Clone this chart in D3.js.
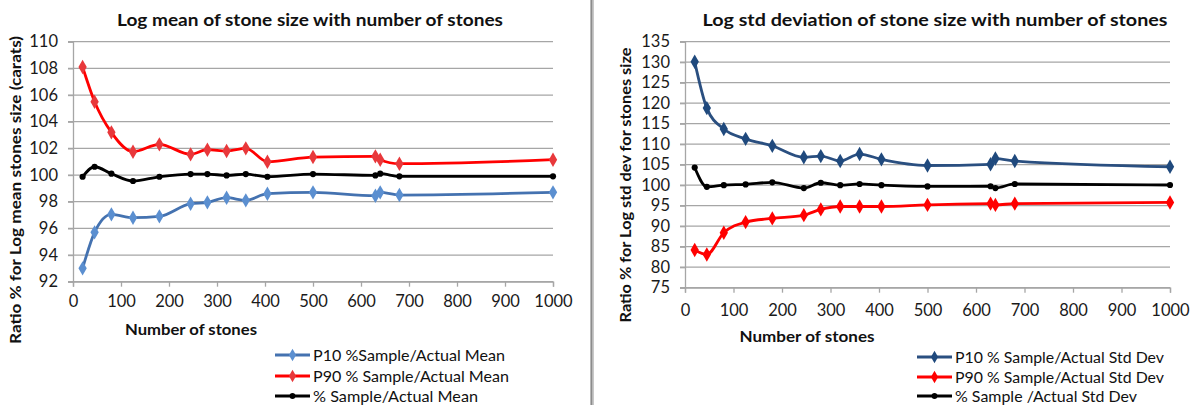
<!DOCTYPE html>
<html><head><meta charset="utf-8">
<script src="https://cdn.jsdelivr.net/npm/d3@7"></script>
<style>
html,body{margin:0;padding:0;background:#fff;}
svg{display:block;font-family:Lato,"Open Sans",sans-serif;}
</style></head>
<body>
<svg id="c" width="1195" height="405"></svg>
<script>
// ---- data ----
const stones = [20, 45, 80, 125, 180, 245, 280, 320, 360, 405, 500, 630, 640, 680, 1000];
const meanP10 = [93.0, 95.7, 97.05, 96.8, 96.9, 97.85, 97.95, 98.3, 98.1, 98.6, 98.7, 98.45, 98.7, 98.5, 98.7];
const meanP90 = [108.1, 105.5, 103.2, 101.75, 102.3, 101.55, 101.9, 101.8, 102.0, 101.0, 101.35, 101.4, 101.15, 100.85, 101.15];
const meanAvg = [99.87, 100.62, 100.1, 99.55, 99.87, 100.07, 100.07, 99.97, 100.07, 99.87, 100.07, 99.97, 100.1, 99.9, 99.9];
const stdP10 = [130.1, 118.8, 113.7, 111.3, 109.6, 106.8, 107.1, 105.9, 107.6, 106.3, 104.8, 105.1, 106.5, 105.9, 104.5];
const stdP90 = [84.2, 83.1, 88.4, 91.0, 91.9, 92.7, 94.1, 94.8, 94.8, 94.8, 95.2, 95.5, 95.2, 95.5, 95.8];
const stdAvg = [104.3, 99.6, 100.0, 100.2, 100.7, 99.3, 100.6, 100.0, 100.3, 100.0, 99.7, 99.75, 99.3, 100.3, 100.05];
const xTicks = [0, 100, 200, 300, 400, 500, 600, 700, 800, 900, 1000];
const meanTicks = [92, 94, 96, 98, 100, 102, 104, 106, 108, 110];
const stdTicks = [75, 80, 85, 90, 95, 100, 105, 110, 115, 120, 125, 130, 135];
const meanNames = ["P10 %Sample/Actual Mean", "P90 % Sample/Actual Mean", "% Sample/Actual Mean"];
const stdNames = ["P10 % Sample/Actual Std Dev", "P90 % Sample/Actual Std Dev", "% Sample /Actual Std Dev"];

const svg = d3.select("#c");
const GRID = "#a6a6a6";

// divider between the two charts
svg.append("rect").attr("x", 590).attr("y", 0).attr("width", 4).attr("height", 405).attr("fill", "#c8c8c8");
svg.append("line").attr("x1", 591.5).attr("x2", 591.5).attr("y1", 0).attr("y2", 405).attr("stroke", "#8c8c8c").attr("stroke-width", 1.5);

function drawChart(cfg) {
  const x = d3.scaleLinear().domain([0, 1000]).range(cfg.xr);
  const y = d3.scaleLinear().domain(cfg.yd).range(cfg.yr);
  const g = svg.append("g");

  // gridlines
  g.append("g").selectAll("line").data(cfg.yTicks).join("line")
    .attr("x1", cfg.xr[0] - 5).attr("x2", cfg.xr[1])
    .attr("y1", d => y(d)).attr("y2", d => y(d))
    .attr("stroke", GRID).attr("stroke-width", 1.3);

  // y axis
  const ya = g.append("g").attr("transform", `translate(${cfg.xr[0]},0)`)
    .call(d3.axisLeft(y).tickValues(cfg.yTicks).tickSize(5).tickPadding(10).tickFormat(d3.format("d")));
  ya.select(".domain").attr("stroke", GRID).attr("stroke-width", 1.3);
  ya.selectAll(".tick line").attr("stroke", GRID).attr("stroke-width", 1.3);
  ya.selectAll("text").attr("font-size", 16.5).attr("fill", "#1a1a1a").attr("font-family", "Lato");

  // x axis
  const xa = g.append("g").attr("transform", `translate(0,${cfg.yr[0]})`)
    .call(d3.axisBottom(x).tickValues(xTicks).tickSize(5).tickPadding(cfg.xPad).tickFormat(d3.format("d")));
  xa.select(".domain").attr("stroke", GRID).attr("stroke-width", 1.3);
  xa.selectAll(".tick line").attr("stroke", GRID).attr("stroke-width", 1.3);
  xa.selectAll("text").attr("font-size", 16.5).attr("fill", "#1a1a1a").attr("font-family", "Lato");

  // series
  const line = d3.line().x((d, i) => x(stones[i])).y(d => y(d)).curve(d3.curveMonotoneX);
  const diamond = d3.symbol().type(d3.symbolDiamond).size(60);
  cfg.series.forEach(s => {
    g.append("path").datum(s.vals).attr("d", line).attr("fill", "none")
      .attr("stroke", s.line).attr("stroke-width", 2.8).attr("stroke-linejoin", "round");
    const m = g.append("g").selectAll("path").data(s.vals).join("path")
      .attr("transform", (d, i) => `translate(${x(stones[i])},${y(d)})`)
      .attr("fill", s.marker);
    if (s.shape === "circle") m.attr("d", d3.symbol().type(d3.symbolCircle).size(30));
    else m.attr("d", diamond);
  });

  // title
  g.append("text").attr("x", cfg.titleX).attr("y", 26).attr("text-anchor", "middle")
    .attr("font-size", 17.5).attr("font-weight", "bold").attr("fill", "#111")
    .attr("textLength", cfg.titleLen).attr("lengthAdjust", "spacingAndGlyphs").text(cfg.title);
  // x title
  g.append("text").attr("x", cfg.xtX).attr("y", cfg.xtY).attr("text-anchor", "middle")
    .attr("font-size", 16).attr("font-weight", "bold").attr("fill", "#111")
    .attr("textLength", cfg.xtLen).attr("lengthAdjust", "spacingAndGlyphs").text("Number of stones");
  // y title
  g.append("text").attr("transform", `translate(${cfg.ytX},${cfg.ytY}) rotate(-90)`)
    .attr("text-anchor", "middle").attr("font-size", 15).attr("font-weight", "bold").attr("fill", "#111")
    .attr("textLength", cfg.ytLen).attr("lengthAdjust", "spacingAndGlyphs").text(cfg.ytitle);

  // legend
  const lg = g.append("g");
  cfg.series.forEach((s, i) => {
    const ly = cfg.legY[i];
    lg.append("line").attr("x1", cfg.legX[0]).attr("x2", cfg.legX[1]).attr("y1", ly).attr("y2", ly)
      .attr("stroke", s.line).attr("stroke-width", 2.8);
    lg.append("path").attr("transform", `translate(${(cfg.legX[0] + cfg.legX[1]) / 2},${ly})`)
      .attr("d", s.shape === "circle" ? d3.symbol().type(d3.symbolCircle).size(26)() : d3.symbol().type(d3.symbolDiamond).size(44)())
      .attr("fill", s.marker);
    lg.append("text").attr("x", cfg.legX[1] + 3).attr("y", ly).attr("dy", "0.35em")
      .attr("font-size", 16).attr("fill", "#111")
      .attr("textLength", cfg.legLen[i]).attr("lengthAdjust", "spacingAndGlyphs").text(cfg.names[i]);
  });
}

drawChart({
  xr: [73, 553], yd: [92, 110], yr: [281.7, 41.7], yTicks: meanTicks, xPad: 9,
  title: "Log mean of stone size with number of stones", titleX: 310, titleLen: 386,
  xtX: 191, xtY: 335, xtLen: 132,
  ytitle: "Ratio % for Log mean stones size (carats)", ytX: 21, ytY: 190, ytLen: 308,
  names: meanNames, legX: [275, 310], legY: [355, 376, 396], legLen: [192, 196, 165],
  series: [
    { vals: meanP10, line: "#4472B0", marker: "#5B8FD0", shape: "diamond" },
    { vals: meanP90, line: "#FF0000", marker: "#E8383B", shape: "diamond" },
    { vals: meanAvg, line: "#000000", marker: "#000000", shape: "circle" }
  ]
});

drawChart({
  xr: [685, 1170], yd: [75, 135], yr: [287.7, 41.7], yTicks: stdTicks, xPad: 12,
  title: "Log std deviation of stone size with number of stones", titleX: 935, titleLen: 465,
  xtX: 807, xtY: 342, xtLen: 135,
  ytitle: "Ratio % for Log std dev for stones size", ytX: 631, ytY: 185, ytLen: 275,
  names: stdNames, legX: [917, 952], legY: [357, 377, 396], legLen: [209, 209, 182],
  series: [
    { vals: stdP10, line: "#2A4F80", marker: "#1F497D", shape: "diamond" },
    { vals: stdP90, line: "#FF0000", marker: "#FF0000", shape: "diamond" },
    { vals: stdAvg, line: "#000000", marker: "#000000", shape: "circle" }
  ]
});
</script>
</body></html>
